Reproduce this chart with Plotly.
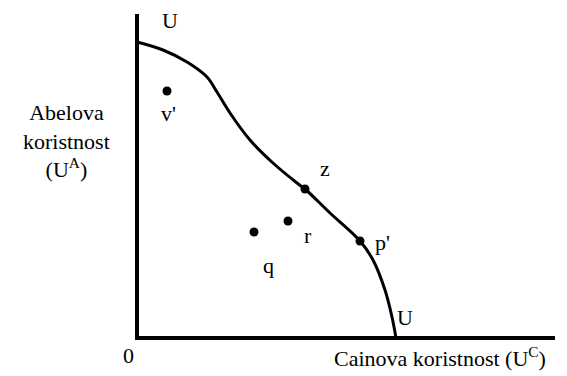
import plotly.graph_objects as go

# Utility possibility frontier (Cain's utility on x, Abel's on y)
frontier_x = [0, 26, 50, 70, 80, 93, 113, 136, 160, 168, 193, 223, 236, 248, 255, 259]
frontier_y = [296, 288, 276, 261, 246, 225, 198, 175, 155, 149, 125, 97, 78, 48, 21, 0]

point_names = ["v'", "q", "r", "z", "p'"]
point_x = [30, 117, 151, 168, 223]
point_y = [247, 106, 117, 149, 97]
label_x = [31, 131, 171, 188, 245]
label_y = [225, 73, 103, 170, 96]

axis_x_max = 418
axis_y_max = 324

FONT = "Liberation Serif"

fig = go.Figure()

# axes
fig.add_trace(go.Scatter(x=[0, 0, axis_x_max], y=[axis_y_max, 0, 0], mode="lines",
                         line=dict(color="black", width=4), hoverinfo="skip"))
# frontier
fig.add_trace(go.Scatter(x=frontier_x, y=frontier_y, mode="lines",
                         line=dict(color="black", width=3, shape="spline", smoothing=1.0),
                         hoverinfo="skip"))
# points
fig.add_trace(go.Scatter(x=point_x, y=point_y, mode="markers",
                         marker=dict(color="black", size=9), hoverinfo="skip"))

annots = []
for n, x, y in zip(point_names, label_x, label_y):
    annots.append(dict(x=x, y=y, text=n))
annots += [
    dict(x=33, y=318, text="U"),
    dict(x=268, y=21, text="U"),
    dict(x=-9, y=-17, text="0"),
    dict(x=303, y=-19, text="Cainova koristnost (U<sup>C</sup>)"),
    dict(x=-71, y=197, text="Abelova<br>koristnost<br>(U<sup>A</sup>)"),
]
for a in annots:
    fig.add_annotation(x=a["x"], y=a["y"], text=a["text"], showarrow=False,
                       xref="x", yref="y",
                       xanchor="center", yanchor="middle",
                       font=dict(family=FONT, size=22, color="black"))

# page body keeps its default 8px margin, so the figure is 8px smaller
fig.update_layout(
    width=559, height=368,
    margin=dict(l=0, r=0, t=0, b=0),
    plot_bgcolor="white",
    showlegend=False,
    xaxis=dict(range=[-129, 430], visible=False),
    yaxis=dict(range=[-38, 330], visible=False),
)

fig.write_html("out.html")
